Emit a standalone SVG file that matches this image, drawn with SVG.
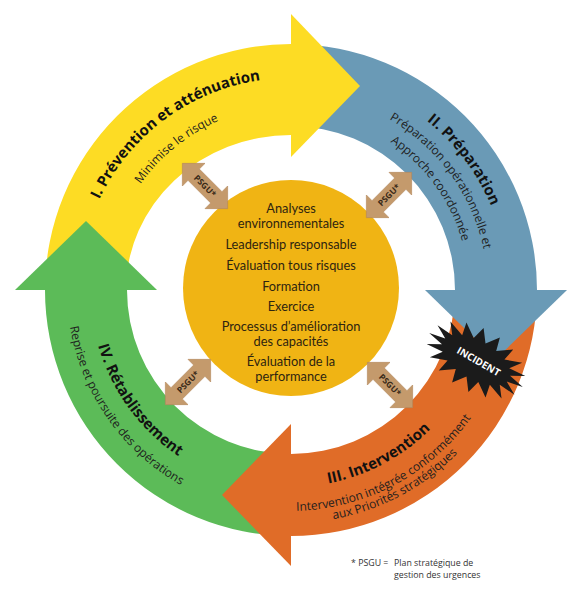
<svg xmlns="http://www.w3.org/2000/svg" xmlns:xlink="http://www.w3.org/1999/xlink" width="580" height="591" viewBox="0 0 580 591">
<style>
.title{font-family:"Open Sans","Noto Sans",sans-serif;font-weight:700;font-size:15px;fill:#111}
.sub{font-family:"Open Sans","Noto Sans",sans-serif;font-size:12px;fill:#1e1e1e}
.ctr{font-family:Lato,"Open Sans",sans-serif;font-size:12.8px;fill:#2e2410;text-anchor:middle}
.psgu{fill:#c49a6c;stroke:#b3875a;stroke-width:0.6}
.psgut{font-family:"Open Sans","Noto Sans",sans-serif;font-weight:700;font-size:8.5px;fill:#3a2a18;text-anchor:middle}
.foot{font-family:"Open Sans","Noto Sans",sans-serif;font-size:8.8px;fill:#333}
</style>
<defs>
<path id="cw212" d="M82.2,253.2 A212,212 0 0 1 499.8,253.2"/>
<path id="cw184" d="M109.8,258.1 A184,184 0 0 1 472.2,258.1"/>
<path id="cw217" d="M77.3,252.3 A217,217 0 0 1 504.7,252.3"/>
<path id="cw197" d="M97,255.8 A197,197 0 0 1 485,255.8"/>
<path id="cw178" d="M115.7,259.1 A178,178 0 0 1 466.3,259.1"/>
<path id="ccw197" d="M97,324.2 A197,197 0 0 0 485,324.2"/>
<path id="ccw221" d="M73.4,328.4 A221,221 0 0 0 508.6,328.4"/>
<path id="ccw233" d="M61.5,330.4 A233,233 0 0 0 520.5,330.4"/>
<path id="ccw201" d="M93.1,324.9 A201,201 0 0 0 488.9,324.9"/>
<path id="ccw224" d="M70.4,328.9 A224,224 0 0 0 511.6,328.9"/>
<polygon id="dbl" points="-32,0 -16,-16 -16,-8 16,-8 16,-16 32,0 16,16 16,8 -16,8 -16,16"/>
</defs>
<rect width="580" height="591" fill="#ffffff"/>

<g id="bodies">
<path id="body-prevention" d="M45,290 A246,246 0 0 1 291,44 L291,135 A165,155 0 0 0 126,290 Z" fill="#fddc24"/>
<path id="body-preparation" d="M291,44 A246,246 0 0 1 537,290 L455,290 A164,164 0 0 0 291,126 Z" fill="#6a9ab6"/>
<path id="body-intervention" d="M537,290 A246,246 0 0 1 291,536 L291,454 A164,164 0 0 0 455,290 Z" fill="#e06c28"/>
<path id="body-retablissement" d="M291,536 A246,246 0 0 1 45,290 L127,290 A164,164 0 0 0 291,454 Z" fill="#5cbb58"/>
</g>

<g id="node-prevention">
<polygon points="291,14 360,86 291,157" fill="#fddc24"/>
<text class="title" transform="rotate(-36.5 291 290)"><textPath xlink:href="#cw212" href="#cw212" startOffset="50%" text-anchor="middle">I. Prévention et atténuation</textPath></text>
<text class="sub" transform="rotate(-39 291 290)"><textPath xlink:href="#cw184" href="#cw184" startOffset="50%" text-anchor="middle">Minimise le risque</textPath></text>
</g>

<g id="node-preparation">
<polygon points="425,290 567,290 496,359" fill="#6a9ab6"/>
<text class="title" transform="rotate(53 291 290)"><textPath xlink:href="#cw217" href="#cw217" startOffset="50%" text-anchor="middle">II. Préparation</textPath></text>
<text class="sub" transform="rotate(54 291 290)"><textPath xlink:href="#cw197" href="#cw197" startOffset="50%" text-anchor="middle">Préparation opérationnelle et</textPath></text>
<text class="sub" transform="rotate(54 291 290)"><textPath xlink:href="#cw178" href="#cw178" startOffset="50%" text-anchor="middle">Approche coordonnée</textPath></text>
</g>

<g id="node-intervention">
<polygon points="291,424 291,566 222,495" fill="#e06c28"/>
<text class="title" transform="rotate(-28 291 290)"><textPath xlink:href="#ccw197" href="#ccw197" startOffset="50%" text-anchor="middle">III. Intervention</textPath></text>
<text class="sub" transform="rotate(-28 291 290)"><textPath xlink:href="#ccw221" href="#ccw221" startOffset="50%" text-anchor="middle">Intervention intégrée conformément</textPath></text>
<text class="sub" transform="rotate(-28 291 290)"><textPath xlink:href="#ccw233" href="#ccw233" startOffset="50%" text-anchor="middle">aux Priorités stratégiques</textPath></text>
</g>

<g id="node-retablissement">
<polygon points="15,290 157,290 86,221" fill="#5cbb58"/>
<text class="title" transform="rotate(54 291 290)"><textPath xlink:href="#ccw201" href="#ccw201" startOffset="50%" text-anchor="middle">IV. Rétablissement</textPath></text>
<text class="sub" transform="rotate(55 291 290)"><textPath xlink:href="#ccw224" href="#ccw224" startOffset="50%" text-anchor="middle">Reprise et poursuite des opérations</textPath></text>
</g>

<g id="node-incident" transform="translate(476,360) rotate(30)">
<polygon points="54,0 37.4,3.3 50.7,10.9 32.9,9.5 41.4,20.6 24.4,14.6 27,27.7 13,17.9 9.4,31.5 0,19 -9.4,31.5 -13,17.9 -27,27.7 -24.4,14.6 -41.4,20.6 -32.9,9.5 -50.7,10.9 -37.4,3.3 -54,0 -37.4,-3.3 -50.7,-10.9 -32.9,-9.5 -41.4,-20.6 -24.4,-14.6 -27,-27.7 -13,-17.9 -9.4,-31.5 0,-19 9.4,-31.5 13,-17.9 27,-27.7 24.4,-14.6 41.4,-20.6 32.9,-9.5 50.7,-10.9 37.4,-3.3" fill="#1b1b1b"/>
<text x="3" y="3.5" font-family="Open Sans, Noto Sans, sans-serif" font-weight="700" font-size="10px" fill="#ffffff" text-anchor="middle">INCIDENT</text>
</g>

<g id="node-center">
<circle cx="291" cy="288" r="108" fill="#f0b414"/>
<text class="ctr" x="291" y="212.5"><tspan x="291" y="212.5">Analyses</tspan><tspan x="291" y="227.5">environnementales</tspan></text>
<text class="ctr" x="291" y="248.5">Leadership responsable</text>
<text class="ctr" x="291" y="269.5">Évaluation tous risques</text>
<text class="ctr" x="291" y="290.5">Formation</text>
<text class="ctr" x="291" y="310.5">Exercice</text>
<text class="ctr" x="291" y="331"><tspan x="291" y="331">Processus d’amélioration</tspan><tspan x="291" y="346">des capacités</tspan></text>
<text class="ctr" x="291" y="366"><tspan x="291" y="366">Évaluation de la</tspan><tspan x="291" y="381">performance</tspan></text>
</g>

<g id="connectors">
<g id="psgu-tl" transform="translate(205,186) rotate(45)"><use href="#dbl" xlink:href="#dbl" class="psgu"/><text class="psgut" x="0" y="3">PSGU*</text></g>
<g id="psgu-tr" transform="translate(389,195) rotate(-45)"><use href="#dbl" xlink:href="#dbl" class="psgu"/><text class="psgut" x="0" y="3">PSGU*</text></g>
<g id="psgu-bl" transform="translate(188,382) rotate(-45)"><use href="#dbl" xlink:href="#dbl" class="psgu"/><text class="psgut" x="0" y="3">PSGU*</text></g>
<g id="psgu-br" transform="translate(390,385) rotate(45)"><use href="#dbl" xlink:href="#dbl" class="psgu"/><text class="psgut" x="0" y="3">PSGU*</text></g>
</g>

<g id="footnote">
<text class="foot" x="351" y="566">* PSGU =</text>
<text class="foot" x="394" y="566">Plan stratégique de</text>
<text class="foot" x="394" y="578">gestion des urgences</text>
</g>
</svg>
